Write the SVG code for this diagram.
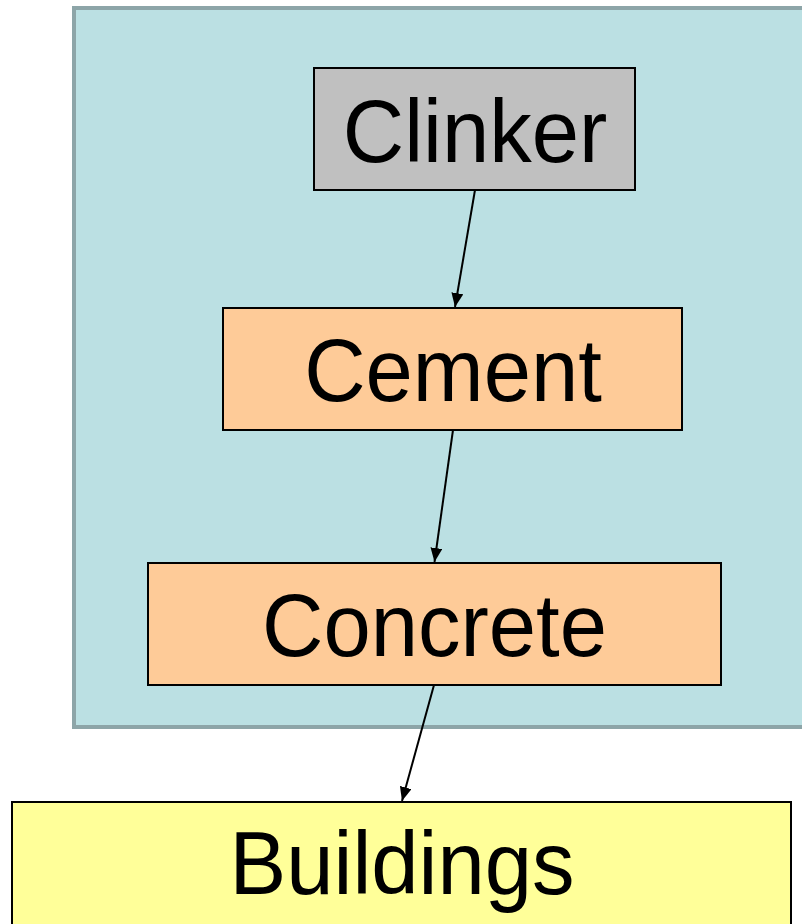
<svg xmlns="http://www.w3.org/2000/svg" width="802" height="924" viewBox="0 0 802 924">
<defs>
<style>
.box{stroke:#000;stroke-width:2}
.lbl{font-family:"Liberation Sans",Arial,sans-serif;font-size:85px;fill:#000;text-anchor:middle}
.edge{stroke:#000;stroke-width:2;fill:none;marker-end:url(#arr)}
</style>
<marker id="arr" markerWidth="14" markerHeight="12" refX="14" refY="6" orient="auto" markerUnits="userSpaceOnUse">
<path d="M0,0 L14,6 L0,12 Z" fill="#000"/>
</marker>
</defs>
<rect x="0" y="0" width="802" height="924" fill="#fff"/>
<g id="container">
<rect x="74" y="8" width="740" height="719" fill="#bbe0e3" stroke="#8da5a8" stroke-width="4"/>
</g>
<g id="clinker">
<rect class="box" x="314" y="68" width="321" height="122" fill="#c0c0c0"/>
<text class="lbl" transform="translate(475,162) scale(1,1.05)">Clinker</text>
</g>
<g id="cement">
<rect class="box" x="223" y="308" width="459" height="122" fill="#fecb98"/>
<text class="lbl" transform="translate(453,401) scale(1,1.05)">Cement</text>
</g>
<g id="concrete">
<rect class="box" x="148" y="563" width="573" height="122" fill="#fecb98"/>
<text class="lbl" transform="translate(434.5,656) scale(1,1.05)">Concrete</text>
</g>
<g id="buildings">
<rect class="box" x="12" y="802" width="779" height="140" fill="#ffff99"/>
<text class="lbl" transform="translate(402,894) scale(1,1.05)">Buildings</text>
</g>
<g id="connectors">
<line class="edge" x1="475" y1="190" x2="455" y2="307"/>
<line class="edge" x1="453" y1="430" x2="434.5" y2="562"/>
<line class="edge" x1="434" y1="685" x2="402" y2="801"/>
</g>
</svg>
